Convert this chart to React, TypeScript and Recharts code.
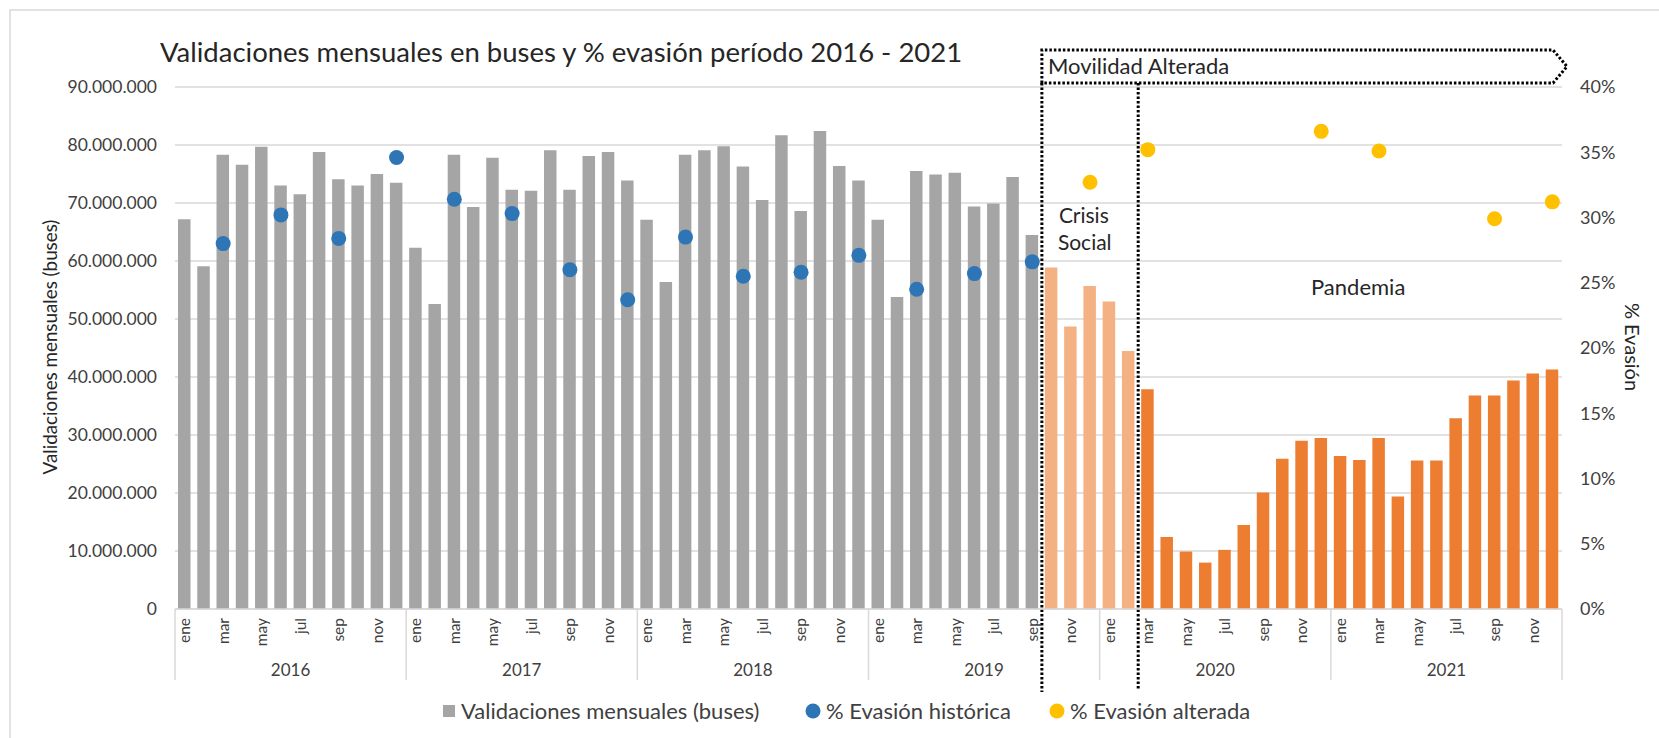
import React from 'react';
import {
  ComposedChart,
  Bar,
  Cell,
  Line,
  XAxis,
  YAxis,
  CartesianGrid,
  ReferenceLine,
} from 'recharts';

const meses = ['ene', 'feb', 'mar', 'abr', 'may', 'jun', 'jul', 'ago', 'sep', 'oct', 'nov', 'dic'];
const anios = [2016, 2017, 2018, 2019, 2020, 2021];

// validaciones mensuales en buses (millones), ene..dic
const validaciones2016 = [67.2, 59.1, 78.3, 76.6, 79.7, 73.0, 71.5, 78.8, 74.1, 73.0, 75.0, 73.5];
const validaciones2017 = [62.3, 52.6, 78.3, 69.3, 77.8, 72.3, 72.1, 79.1, 72.3, 78.1, 78.8, 73.9];
const validaciones2018 = [67.1, 56.4, 78.3, 79.1, 79.8, 76.3, 70.5, 81.7, 68.6, 82.4, 76.4, 73.9];
const validaciones2019 = [67.1, 53.8, 75.5, 74.9, 75.2, 69.4, 69.9, 74.5, 64.5, 58.9, 48.7, 55.7];
const validaciones2020 = [53.0, 44.5, 37.9, 12.4, 9.9, 8.0, 10.2, 14.5, 20.1, 25.9, 29.0, 29.5];
const validaciones2021 = [26.4, 25.7, 29.5, 19.4, 25.6, 25.6, 32.9, 36.8, 36.8, 39.4, 40.6, 41.3];
const validacionesPorAnio = [
  validaciones2016, validaciones2017, validaciones2018,
  validaciones2019, validaciones2020, validaciones2021,
];

// % evasión (trimestral)
const evasionHistorica: [string, number][] = [
  ['2016-03', 28.0], ['2016-06', 30.2], ['2016-09', 28.4], ['2016-12', 34.6],
  ['2017-03', 31.4], ['2017-06', 30.3], ['2017-09', 26.0], ['2017-12', 23.7],
  ['2018-03', 28.5], ['2018-06', 25.5], ['2018-09', 25.8], ['2018-12', 27.1],
  ['2019-03', 24.5], ['2019-06', 25.7], ['2019-09', 26.6],
];
const evasionAlterada: [string, number][] = [
  ['2019-12', 32.7], ['2020-03', 35.2], ['2020-12', 36.6],
  ['2021-03', 35.1], ['2021-09', 29.9], ['2021-12', 31.2],
];

const inicioCrisis = '2019-10';
const inicioPandemia = '2020-03';

const ticksValidaciones = [0, 10e6, 20e6, 30e6, 40e6, 50e6, 60e6, 70e6, 80e6, 90e6];
const ticksEvasion = [0, 5, 10, 15, 20, 25, 30, 35, 40];

const datos = anios.flatMap((anio, a) =>
  meses.map((mes, m) => {
    const id = `${anio}-${String(m + 1).padStart(2, '0')}`;
    const h = evasionHistorica.find((e) => e[0] === id);
    const al = evasionAlterada.find((e) => e[0] === id);
    return {
      id,
      mes,
      anio,
      validaciones: Math.round(validacionesPorAnio[a][m] * 1e6),
      evHist: h ? h[1] : null,
      evAlt: al ? al[1] : null,
    };
  })
);

const W = 1659;
const H = 738;
const PLOT_LEFT = 175;
const PLOT_RIGHT = 1562;
const PLOT_TOP = 87;
const PLOT_BOTTOM = 609;
const BAND = (PLOT_RIGHT - PLOT_LEFT) / datos.length;
const FONT = 'Lato, "Open Sans", sans-serif';
const TXT = '#404040';
const GRID = '#d9d9d9';

const colorBarra = (id: string) =>
  id < inicioCrisis ? '#a5a5a5' : id < inicioPandemia ? '#f4b183' : '#ed7d31';

const fmtMiles = (v: number) => String(v).replace(/\B(?=(\d{3})+(?!\d))/g, '.');

const MonthTick = (props: any) => {
  const { x, y, payload } = props;
  const i = payload.index;
  const fila = datos[i];
  if (!fila) return null;
  const ty = y + 9;
  return (
    <g>
      {i % 2 === 0 && (
        <text
          x={x}
          y={ty}
          transform={`rotate(-90 ${x} ${ty})`}
          textAnchor="end"
          dy="0.35em"
          fontSize={15.5}
          fontFamily={FONT}
          fill={TXT}
        >
          {fila.mes}
        </text>
      )}
      {i % 12 === 0 && (
        <line x1={x - BAND / 2} x2={x - BAND / 2} y1={y} y2={y + 71} stroke={GRID} strokeWidth={1.5} />
      )}
      {i === datos.length - 1 && (
        <line x1={x + BAND / 2} x2={x + BAND / 2} y1={y} y2={y + 71} stroke={GRID} strokeWidth={1.5} />
      )}
      {i % 12 === 5 && (
        <text x={x + BAND / 2} y={y + 67} textAnchor="middle" fontSize={17} fontFamily={FONT} fill={TXT}>
          {fila.anio}
        </text>
      )}
    </g>
  );
};

const dotted = { stroke: '#000', strokeWidth: 3, strokeDasharray: '2.5 2', fill: 'none' };

const CrisisShape = (props: any) => {
  const x = props.x1;
  const top = Math.min(props.y1, props.y2);
  const bottom = Math.max(props.y1, props.y2);
  const boxTop = top - 37;
  const boxBottom = top - 4;
  const boxRight = PLOT_RIGHT - 9;
  const tip = PLOT_RIGHT + 5;
  return (
    <g>
      <path
        d={`M${x},${boxBottom} L${x},${boxTop} L${boxRight},${boxTop} L${tip},${(boxTop + boxBottom) / 2} L${boxRight},${boxBottom} Z`}
        {...dotted}
      />
      <line x1={x} x2={x} y1={boxBottom} y2={bottom + 83} {...dotted} />
      <text x={x + 6} y={top - 13} fontSize={22} fontFamily={FONT} fill="#262626">
        Movilidad Alterada
      </text>
      <text x={x + 17} y={top + 136} fontSize={21} fontFamily={FONT} fill="#262626">
        Crisis
      </text>
      <text x={x + 16} y={top + 163} fontSize={21} fontFamily={FONT} fill="#262626">
        Social
      </text>
    </g>
  );
};

const PandemiaShape = (props: any) => {
  const x = props.x1;
  const top = Math.min(props.y1, props.y2);
  const bottom = Math.max(props.y1, props.y2);
  return (
    <g>
      <line x1={x} x2={x} y1={top - 4} y2={bottom + 81} {...dotted} />
      <text x={x + 220} y={top + 208} textAnchor="middle" fontSize={22} fontFamily={FONT} fill="#262626">
        Pandemia
      </text>
    </g>
  );
};

export default function App() {
  return (
    <div style={{ position: 'absolute', left: 0, top: 0, width: W, height: H, background: '#fff' }}>
      <ComposedChart
        width={W}
        height={H}
        data={datos}
        margin={{ top: PLOT_TOP, right: 10, left: 10, bottom: 0 }}
      >
        <CartesianGrid yAxisId="left" vertical={false} stroke={GRID} strokeWidth={1.5} />
        <XAxis
          dataKey="id"
          interval={0}
          height={H - PLOT_BOTTOM}
          tickSize={0}
          tickMargin={0}
          tickLine={false}
          axisLine={{ stroke: GRID, strokeWidth: 1.5 }}
          tick={(p: any) => <MonthTick {...p} />}
        />
        <YAxis
          yAxisId="left"
          width={PLOT_LEFT - 10}
          domain={[0, 90e6]}
          ticks={ticksValidaciones}
          tickFormatter={fmtMiles}
          axisLine={false}
          tickLine={false}
          tickSize={0}
          tickMargin={18}
          tick={{ fill: TXT, fontSize: 17.5, fontFamily: FONT }}
        />
        <YAxis
          yAxisId="right"
          orientation="right"
          width={W - PLOT_RIGHT - 10}
          domain={[0, 40]}
          ticks={ticksEvasion}
          tickFormatter={(v: number) => `${v}%`}
          axisLine={false}
          tickLine={false}
          tickSize={0}
          tickMargin={18}
          tick={{ fill: TXT, fontSize: 18, fontFamily: FONT, textAnchor: 'start' }}
        />
        <Bar yAxisId="left" dataKey="validaciones" barSize={12.5} isAnimationActive={false}>
          {datos.map((d) => (
            <Cell key={d.id} fill={colorBarra(d.id)} />
          ))}
        </Bar>
        <ReferenceLine
          yAxisId="left"
          x={inicioCrisis}
          position="start"
          ifOverflow="visible"
          shape={(p: any) => <CrisisShape {...p} />}
        />
        <ReferenceLine
          yAxisId="left"
          x={inicioPandemia}
          position="start"
          ifOverflow="visible"
          shape={(p: any) => <PandemiaShape {...p} />}
        />
        <Line
          yAxisId="right"
          dataKey="evHist"
          stroke="none"
          dot={{ r: 7.5, fill: '#2e75b6', stroke: 'none' }}
          activeDot={false}
          isAnimationActive={false}
        />
        <Line
          yAxisId="right"
          dataKey="evAlt"
          stroke="none"
          dot={{ r: 7.5, fill: '#ffc000', stroke: 'none' }}
          activeDot={false}
          isAnimationActive={false}
        />
      </ComposedChart>
      <svg
        width={W}
        height={H}
        style={{ position: 'absolute', left: 0, top: 0, pointerEvents: 'none' }}
        fontFamily={FONT}
      >
        <rect x={10} y={10} width={W + 20} height={H + 20} fill="none" stroke={GRID} strokeWidth={1.5} />
        <text x={160} y={62} fontSize={27.5} fill="#262626">
          Validaciones mensuales en buses y % evasión período 2016 - 2021
        </text>
        <text
          x={50}
          y={347}
          transform="rotate(-90 50 347)"
          textAnchor="middle"
          dy="0.35em"
          fontSize={18.8}
          fill="#262626"
        >
          Validaciones mensuales (buses)
        </text>
        <text
          x={1632}
          y={347}
          transform="rotate(90 1632 347)"
          textAnchor="middle"
          dy="0.35em"
          fontSize={20}
          fill="#262626"
        >
          % Evasión
        </text>
        <rect x={443} y={705} width={12} height={12} fill="#a5a5a5" />
        <text x={461} y={711} dy="0.35em" fontSize={22} fill={TXT}>
          Validaciones mensuales (buses)
        </text>
        <circle cx={813} cy={711} r={7.5} fill="#2e75b6" />
        <text x={826} y={711} dy="0.35em" fontSize={22} fill={TXT}>
          % Evasión histórica
        </text>
        <circle cx={1057} cy={711} r={7.5} fill="#ffc000" />
        <text x={1070} y={711} dy="0.35em" fontSize={22} fill={TXT}>
          % Evasión alterada
        </text>
      </svg>
    </div>
  );
}
